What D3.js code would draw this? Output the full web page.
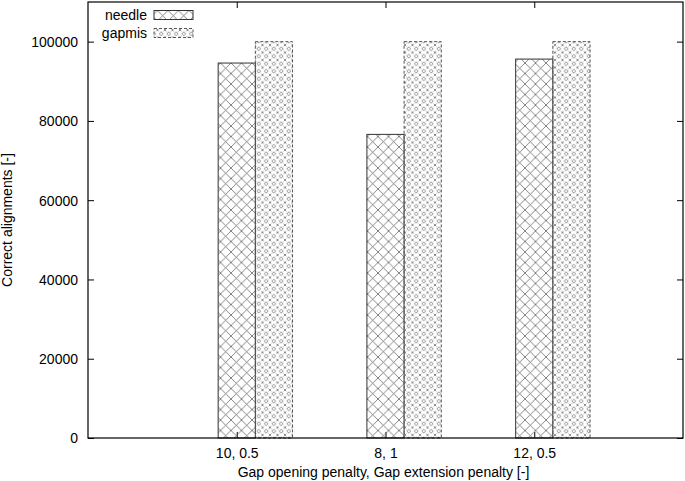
<!DOCTYPE html>
<html><head><meta charset="utf-8">
<script src="https://cdn.jsdelivr.net/npm/d3@7"></script>
<style>body{margin:0;background:#fff}svg{display:block}text{font-family:"Liberation Sans",Arial,sans-serif;font-size:14px;fill:#000}</style>
</head><body>
<svg id="c" width="685" height="481"></svg>
<script>
const categories = ["10, 0.5", "8, 1", "12, 0.5"];
const seriesNames = ["needle", "gapmis"];
const needle = [94600, 76600, 95600];
const gapmis = [100000, 100000, 100000];
const yTicks = [0, 20000, 40000, 60000, 80000, 100000];

const svg = d3.select("#c");
const L = 88, R = 683, T = 2, B = 438;
const x = d3.scaleLinear().domain([-1, 3]).range([L, R]);
const y = d3.scaleLinear().domain([0, 110000]).range([B, T]);
const bw = 0.25;

const defs = svg.append("defs");
const p1 = defs.append("pattern").attr("id","pn").attr("patternUnits","userSpaceOnUse").attr("width",10.5).attr("height",10.5);
p1.append("path").attr("d","M0,0L10.5,10.5M10.5,0L0,10.5").attr("stroke","#666").attr("stroke-width",0.8).attr("fill","none");
const s = 7.5;
const p2 = defs.append("pattern").attr("id","pg").attr("patternUnits","userSpaceOnUse").attr("width",s).attr("height",s);
p2.append("path").attr("d",`M${s/2},${s/2-2}L${s/2+2},${s/2}L${s/2},${s/2+2}L${s/2-2},${s/2}Z`).attr("stroke","#777").attr("stroke-width",0.8).attr("fill","none");
p2.append("path").attr("d",`M0,0L1.3,1.3M${s},0L${s-1.3},1.3M0,${s}L1.3,${s-1.3}M${s},${s}L${s-1.3},${s-1.3}`).attr("stroke","#777").attr("stroke-width",0.8).attr("fill","none");

const g = svg.append("g");
const yAxis = d3.axisLeft(y).tickValues(yTicks).tickSize(-6).tickPadding(10).tickFormat(d3.format("d"));
const ya = g.append("g").attr("transform",`translate(${L},0)`).call(yAxis);
const yb = g.append("g").attr("transform",`translate(${R},0)`).call(d3.axisRight(y).tickValues(yTicks).tickSize(-6).tickFormat(""));
const xAxis = d3.axisBottom(x).tickValues([0,1,2]).tickSize(-6).tickPadding(10).tickFormat((d,i)=>categories[i]);
const xa = g.append("g").attr("transform",`translate(0,${B})`).call(xAxis);
const xb = g.append("g").attr("transform",`translate(0,${T})`).call(d3.axisTop(x).tickValues([0,1,2]).tickSize(-6).tickFormat(""));
[ya,yb,xa,xb].forEach(a=>{a.select(".domain").remove();a.attr("font-size",null).attr("font-family",null);a.selectAll("line").attr("stroke","#000");a.selectAll("text").attr("fill","#000");});
ya.selectAll("text").attr("dy","0.35em");
xa.selectAll("text").attr("y",null).attr("dy",null).attr("transform","translate(0,20)");

const bars = svg.append("g");
bars.selectAll("rect.n").data(needle).join("rect").attr("class","n")
  .attr("x",(d,i)=>x(i-bw/2)).attr("width",x(bw)-x(0)).attr("y",d=>y(d)).attr("height",d=>B-y(d))
  .attr("fill","url(#pn)").attr("stroke","#333").attr("stroke-width",1);
bars.selectAll("rect.g").data(gapmis).join("rect").attr("class","g")
  .attr("x",(d,i)=>x(i+bw/2)).attr("width",x(bw)-x(0)).attr("y",d=>y(d)).attr("height",d=>B-y(d))
  .attr("fill","url(#pg)").attr("stroke","#555").attr("stroke-width",1).attr("stroke-dasharray","3,2");

svg.append("rect").attr("x",L).attr("y",T).attr("width",R-L).attr("height",B-T).attr("fill","none").attr("stroke","#000").attr("stroke-width",1.2);

const leg = svg.append("g");
seriesNames.forEach((n,i)=>{
  const yy = 15 + i*18;
  leg.append("text").attr("x",147).attr("y",yy).attr("dy","0.35em").attr("text-anchor","end").text(n);
  leg.append("rect").attr("x",154).attr("y",yy-4.5).attr("width",39).attr("height",9)
    .attr("fill", i===0?"url(#pn)":"url(#pg)").attr("stroke", i===0?"#333":"#555").attr("stroke-width",1)
    .attr("stroke-dasharray", i===0?null:"3,2");
});

svg.append("text").attr("x",(L+R)/2 - 2).attr("y",477).attr("text-anchor","middle").text("Gap opening penalty, Gap extension penalty [-]");
svg.append("text").attr("transform",`translate(12,${(T+B)/2}) rotate(-90)`).attr("text-anchor","middle").text("Correct alignments [-]");
</script>
</body></html>
